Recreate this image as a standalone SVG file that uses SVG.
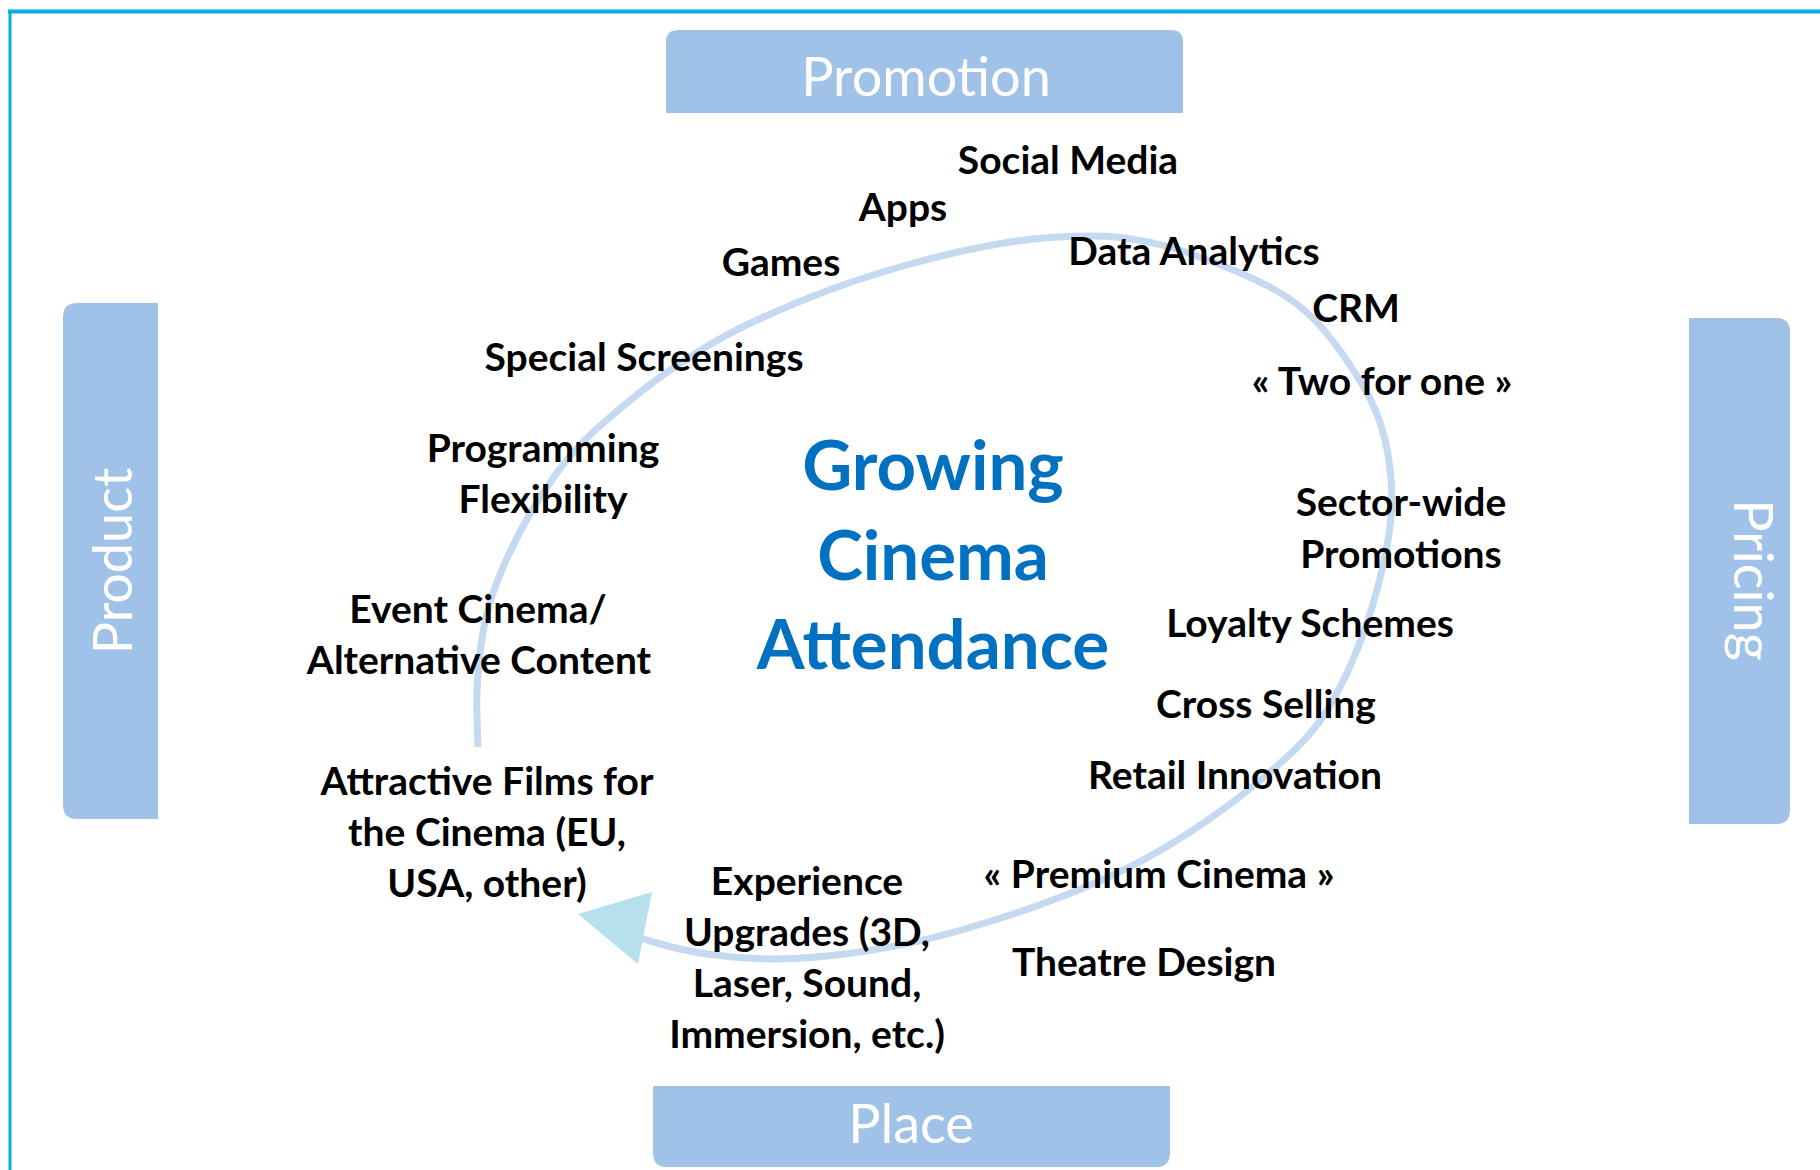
<svg xmlns="http://www.w3.org/2000/svg" width="1820" height="1170" viewBox="0 0 1820 1170">
<style>
.box{fill:#A0C2E8}
.boxt{font-family:Lato,"Liberation Sans",sans-serif;font-size:54px;fill:#fff;text-anchor:middle}
.lbl{font-family:Lato,"Liberation Sans",sans-serif;font-weight:700;font-size:39px;fill:#000;text-anchor:middle}
.title{font-family:Lato,"Liberation Sans",sans-serif;font-weight:700;font-size:69px;fill:#0070C0;text-anchor:middle}
.arc{fill:none;stroke:#C5DAF0;stroke-width:7;stroke-linecap:butt}
</style>
<rect x="0" y="0" width="1820" height="1170" fill="#fff"/>
<g id="frame">
<line x1="8" y1="11.5" x2="1820" y2="11.5" stroke="#07AEDC" stroke-width="4"/>
<line x1="10" y1="10" x2="10" y2="1170" stroke="#07AEDC" stroke-width="3"/>
</g>
<g id="connectors">
<path class="arc" d="M 478 747 L 477 715.5 Q 476 684 480.5 648.5 Q 485 613 496 584.5 Q 507 556 521.5 529 Q 536 502 555 475.5 Q 574 449 596.5 429 Q 619 409 641 391.5 Q 663 374 694.5 354 Q 726 334 761.5 318 Q 797 302 830.5 289.5 Q 864 277 908.5 264.5 Q 953 252 998 244 Q 1043 236 1091.5 236 Q 1140 236 1190 253.5 Q 1240 271 1273.5 289 Q 1307 307 1332 340 Q 1357 373 1370 398.5 Q 1383 424 1388 454.5 Q 1393 485 1391.5 510.5 Q 1390 536 1381.5 572 Q 1373 608 1361.5 638.5 Q 1350 669 1335 697 Q 1320 725 1296.5 748 Q 1273 771 1240 796.5 Q 1207 822 1173.5 842.5 Q 1140 863 1106.5 878 Q 1073 893 1039.5 905 Q 1006 917 961.5 930 Q 917 943 872.5 950 Q 828 957 794.5 958.5 Q 761 960 727.5 956.5 Q 694 953 669.5 946.5 L 640 938"/>
<polygon points="578,914 652,892 638,964" fill="#B5E1EE"/>
</g>
<g id="promotion">
<path class="box" d="M666 113 V42 Q666 30 678 30 H1171 Q1183 30 1183 42 V113 Z"/>
<text class="boxt" x="926" y="96">Promotion</text>
</g>
<g id="product">
<path class="box" d="M158 303 V819 H77 Q63 819 63 805 V317 Q63 303 77 303 Z"/>
<text class="boxt" transform="translate(132,561) rotate(-90)" x="0" y="0">Product</text>
</g>
<g id="pricing">
<path class="box" d="M1689 318 H1776 Q1790 318 1790 332 V810 Q1790 824 1776 824 H1689 Z"/>
<text class="boxt" transform="translate(1734,580) rotate(90)" x="0" y="0">Pricing</text>
</g>
<g id="place">
<path class="box" d="M653 1086 H1170 V1153 Q1170 1167 1156 1167 H667 Q653 1167 653 1153 Z"/>
<text class="boxt" x="911" y="1143">Place</text>
</g>
<g id="center">
<text class="title" x="933" y="490">Growing</text>
<text class="title" x="933" y="580">Cinema</text>
<text class="title" x="933" y="669">Attendance</text>
</g>
<g id="social-media"><text class="lbl" x="1068" y="174">Social Media</text></g>
<g id="apps"><text class="lbl" x="903" y="221">Apps</text></g>
<g id="games"><text class="lbl" x="781" y="276">Games</text></g>
<g id="data-analytics"><text class="lbl" x="1194" y="265">Data Analytics</text></g>
<g id="crm"><text class="lbl" x="1356" y="322">CRM</text></g>
<g id="two-for-one"><text class="lbl" x="1382" y="395">« Two for one »</text></g>
<g id="special-screenings"><text class="lbl" x="644" y="371">Special Screenings</text></g>
<g id="programming"><text class="lbl" x="543" y="462">Programming</text><text class="lbl" x="543" y="513">Flexibility</text></g>
<g id="sector-wide"><text class="lbl" x="1401" y="516">Sector-wide</text><text class="lbl" x="1401" y="568">Promotions</text></g>
<g id="event-cinema"><text class="lbl" x="478" y="623">Event Cinema/</text><text class="lbl" x="479" y="674">Alternative Content</text></g>
<g id="loyalty"><text class="lbl" x="1310" y="637">Loyalty Schemes</text></g>
<g id="cross-selling"><text class="lbl" x="1266" y="718">Cross Selling</text></g>
<g id="retail"><text class="lbl" x="1235" y="789">Retail Innovation</text></g>
<g id="attractive-films"><text class="lbl" x="487" y="795">Attractive Films for</text><text class="lbl" x="487" y="846">the Cinema (EU,</text><text class="lbl" x="487" y="897">USA, other)</text></g>
<g id="premium"><text class="lbl" x="1159" y="888">« Premium Cinema »</text></g>
<g id="experience"><text class="lbl" x="807" y="895">Experience</text><text class="lbl" x="807" y="946">Upgrades (3D,</text><text class="lbl" x="807" y="997">Laser, Sound,</text><text class="lbl" x="807" y="1048">Immersion, etc.)</text></g>
<g id="theatre"><text class="lbl" x="1144" y="976">Theatre Design</text></g>
</svg>
